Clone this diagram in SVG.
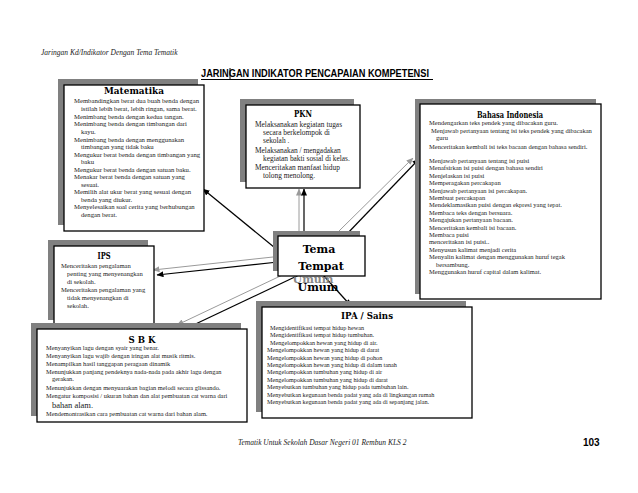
<svg xmlns="http://www.w3.org/2000/svg" width="638" height="493" viewBox="0 0 638 493">
<style>
.sh{fill:#808080}
.bx{fill:#fff;stroke:#000;stroke-width:1.3}
.t{font-family:"Liberation Serif",serif;fill:#1a1a1a}
.h{font-family:"DejaVu Serif",serif;font-weight:bold;font-size:9px;text-anchor:middle;fill:#000}
.m{font-size:6.7px}
.p{font-size:7.4px}
.b{font-size:6.5px}
.i{font-size:6.6px}
.s{font-size:6.4px}
.a{font-size:6.2px}
.lk{stroke:#000;stroke-width:1.2;fill:none;marker-end:url(#ak)}
.lg{stroke:#9a9a9a;stroke-width:1;fill:none;marker-end:url(#ag)}
.it{font-family:"Liberation Serif",serif;font-style:italic;font-size:7.5px;fill:#222}
.tm{font-family:"DejaVu Serif",serif;font-weight:bold;font-size:11px;text-anchor:middle}
</style>
<defs>
<marker id="ak" markerWidth="7" markerHeight="6" refX="6.5" refY="3" orient="auto" markerUnits="userSpaceOnUse"><path d="M0,0 L7,3 L0,6 Z" fill="#000"/></marker>
<marker id="ag" markerWidth="7" markerHeight="6" refX="6.5" refY="3" orient="auto" markerUnits="userSpaceOnUse"><path d="M0,0 L7,3 L0,6 Z" fill="#9a9a9a"/></marker>
</defs>
<rect width="638" height="493" fill="#fff"/>
<g id="header">
<text class="it" x="41" y="55">Jaringan Kd/Indikator Dengan Tema Tematik</text>
<text x="201" y="77" font-family="Liberation Sans, sans-serif" font-weight="bold" font-size="11" textLength="228" lengthAdjust="spacingAndGlyphs">JARINGAN INDIKATOR PENCAPAIAN KOMPETENSI</text>
<line x1="201" y1="79.5" x2="433" y2="79.5" stroke="#000" stroke-width="1"/>
<line x1="230" y1="68" x2="230" y2="80" stroke="#000" stroke-width="1"/>
</g>
<g id="connectors">
<line class="lk" x1="280" y1="252" x2="203" y2="189"/>
<line class="lg" x1="299" y1="231" x2="299" y2="189"/>
<line class="lk" x1="304" y1="236" x2="304" y2="189"/>
<line class="lg" x1="339" y1="231" x2="413" y2="158"/>
<line class="lk" x1="345" y1="236" x2="419" y2="159"/>
<line class="lg" x1="273" y1="257" x2="153" y2="270"/>
<line class="lk" x1="278" y1="262" x2="157" y2="275"/>
<line class="lg" x1="293" y1="270" x2="177" y2="325"/>
<line class="lk" x1="299" y1="275" x2="185" y2="329"/>
<line class="lk" x1="315" y1="266" x2="351" y2="306"/>
</g>
<g id="matematika">
<rect class="sh" x="58" y="79" width="140" height="146"/>
<rect class="bx" x="64" y="85" width="140" height="146"/>
<text class="h" x="134" y="94" textLength="60" lengthAdjust="spacingAndGlyphs">Matematika</text>
<g class="t m">
<text x="74" y="103">Membandingkan berat dua buah benda dengan</text>
<text x="81" y="111">istilah lebih berat, lebih ringan, sama berat.</text>
<text x="74" y="119">Menimbang benda dengan kedua tangan.</text>
<text x="74" y="126">Menimbang benda dengan timbangan dari</text>
<text x="81" y="134">kayu.</text>
<text x="74" y="142">Menimbang benda dengan menggunakan</text>
<text x="81" y="149">timbangan yang tidak baku</text>
<text x="74" y="157">Mengukur berat benda dengan timbangan yang</text>
<text x="81" y="164">baku</text>
<text x="74" y="172">Mengukur berat benda dengan satuan baku.</text>
<text x="74" y="179">Menakar berat benda dengan satuan yang</text>
<text x="81" y="187">sesuai.</text>
<text x="74" y="194">Memilih alat ukur berat yang sesuai dengan</text>
<text x="81" y="202">benda yang diukur.</text>
<text x="74" y="209">Menyelesaikan soal cerita yang berhubungan</text>
<text x="81" y="217">dengan berat.</text>
</g>
</g>
<g id="pkn">
<rect class="sh" x="240" y="99" width="114" height="83"/>
<rect class="bx" x="246" y="105" width="114" height="83"/>
<text class="h" x="303" y="117" textLength="18" lengthAdjust="spacingAndGlyphs">PKN</text>
<g class="t p">
<text x="255" y="127">Melaksanakan kegiatan tugas</text>
<text x="263" y="135">secara berkelompok di</text>
<text x="263" y="143">sekolah .</text>
<text x="255" y="153">Melaksanakan / mengadakan</text>
<text x="263" y="161">kegiatan bakti sosial di kelas.</text>
<text x="255" y="170">Menceritakan manfaat hidup</text>
<text x="263" y="178">tolong menolong.</text>
</g>
</g>
<g id="bahasa">
<rect class="sh" x="415" y="99" width="181" height="195"/>
<rect class="bx" x="420" y="104" width="181" height="195"/>
<text class="h" x="510" y="118" textLength="66" lengthAdjust="spacingAndGlyphs">Bahasa Indonesia</text>
<g class="t b">
<text x="429" y="125">Mendengarkan teks pendek yang dibacakan guru.</text>
<text x="431" y="132.5">Menjawab pertanyaan tentang isi teks pendek yang dibacakan</text>
<text x="436" y="140">guru</text>
<text x="429" y="148.5">Menceritakan kembali isi teks bacaan dengan bahasa sendiri.</text>
<text x="429" y="163">Menjawab  pertanyaan tentang isi puisi</text>
<text x="429" y="170.4">Menafsirkan isi puisi dengan bahasa sendiri</text>
<text x="429" y="177.8">Menjelaskan isi puisi</text>
<text x="429" y="185.2">Memperagakan percakapan</text>
<text x="429" y="192.6">Menjawab pertanyaan isi percakapan.</text>
<text x="429" y="200">Membuat percakapan</text>
<text x="429" y="207.4">Mendeklamasikan puisi dengan ekpresi yang tepat.</text>
<text x="429" y="214.8">Membaca teks dengan bersuara.</text>
<text x="429" y="222.2">Mengajukan pertanyaan bacaan.</text>
<text x="429" y="229.6">Menceritakan kembali isi bacaan.</text>
<text x="429" y="237">Membaca puisi</text>
<text x="429" y="244.4">menceritakan isi puisi..</text>
<text x="429" y="251.8">Menyusun kalimat menjadi cerita</text>
<text x="429" y="259.2">Menyalin kalimat dengan menggunakan huruf tegak</text>
<text x="436" y="266.6">bersambung.</text>
<text x="429" y="274">Menggunakan huruf capital dalam kalimat.</text>
</g>
</g>
<g id="ips">
<rect class="sh" x="48" y="240" width="100" height="80"/>
<rect class="bx" x="54" y="246" width="100" height="80"/>
<text class="h" x="104" y="259" textLength="13" lengthAdjust="spacingAndGlyphs">IPS</text>
<g class="t i">
<text x="61" y="268">Menceritakan pengalaman</text>
<text x="67" y="276">penting  yang menyenangkan</text>
<text x="67" y="284">di sekolah.</text>
<text x="61" y="292">Menceritakan pengalaman yang</text>
<text x="67" y="300">tidak menyenangkan di</text>
<text x="67" y="308">sekolah.</text>
</g>
</g>
<g id="tema">
<text class="tm" x="313" y="283" fill="#888">Umum</text>
<rect class="sh" x="273" y="231" width="87" height="40"/>
<rect class="bx" x="278" y="236" width="87" height="40"/>
<text class="tm" x="319" y="253">Tema</text>
<text class="tm" x="321" y="270">Tempat</text>
<text class="tm" x="318" y="291">Umum</text>
</g>
<g id="sbk">
<rect class="sh" x="31" y="323" width="210" height="93"/>
<rect class="bx" x="37" y="329" width="210" height="93"/>
<text class="h" x="142" y="343" textLength="27" lengthAdjust="spacingAndGlyphs">S B K</text>
<g class="t s">
<text x="46" y="350">Menyanyikan lagu dengan syair yang benar.</text>
<text x="46" y="358">Menyanyikan lagu wajib dengan iringan  alat musik ritmis.</text>
<text x="46" y="366">Menampilkan hasil tanggapan peragaan dinamik</text>
<text x="46" y="374">Menunjukkan panjang pendeknya nada-nada pada akhir lagu dengan</text>
<text x="52" y="381">gerakan.</text>
<text x="46" y="390">Menunjukkan dengan menyuarakan bagian melodi secara glissando.</text>
<text x="46" y="398">Mengatur komposisi / ukuran bahan dan alat pembuatan cat warna dari</text>
<text x="52" y="408" font-size="8.5">bahan alam.</text>
<text x="46" y="416">Mendemontrasikan cara pembuatan cat warna dari bahan alam.</text>
</g>
</g>
<g id="ipa">
<rect class="sh" x="256" y="301" width="210" height="111"/>
<rect class="bx" x="262" y="307" width="210" height="111"/>
<text class="h" x="367" y="319" textLength="52" lengthAdjust="spacingAndGlyphs">IPA / Sains</text>
<g class="t a">
<text x="270" y="330">Mengidentifikasi tempat hidup hewan</text>
<text x="270" y="337.4">Mengidentifikasi tempat hidup tumbuhan.</text>
<text x="270" y="344.8">Mengelompokkan hewan yang hidup di air.</text>
<text x="267" y="352.2">Mengelompokkan hewan  yang hidup di darat</text>
<text x="267" y="359.6">Mengelompokkan hewan yang hidup di pohon</text>
<text x="267" y="367">Mengelompokkan hewan yang hidup di dalam tanah</text>
<text x="267" y="374.4">Mengelompokkan tumbuhan yang hidup di air</text>
<text x="267" y="381.8">Mengelompokkan tumbuhan yang hidup di darat</text>
<text x="267" y="389.2">Menyebutkan tumbuhan yang hidup pada tumbuhan lain.</text>
<text x="267" y="396.6">Menyebutkan kegunaan benda padat yang ada di lingkungan rumah</text>
<text x="267" y="404">Menyebutkan kegunaan benda padat yang ada di sepanjang jalan.</text>
</g>
</g>
<g id="footer">
<text class="it" x="238" y="445">Tematik Untuk Sekolah Dasar Negeri 01 Rembun KLS 2</text>
<text x="583" y="446" font-family="Liberation Sans, sans-serif" font-weight="bold" font-size="10">103</text>
</g>
</svg>
